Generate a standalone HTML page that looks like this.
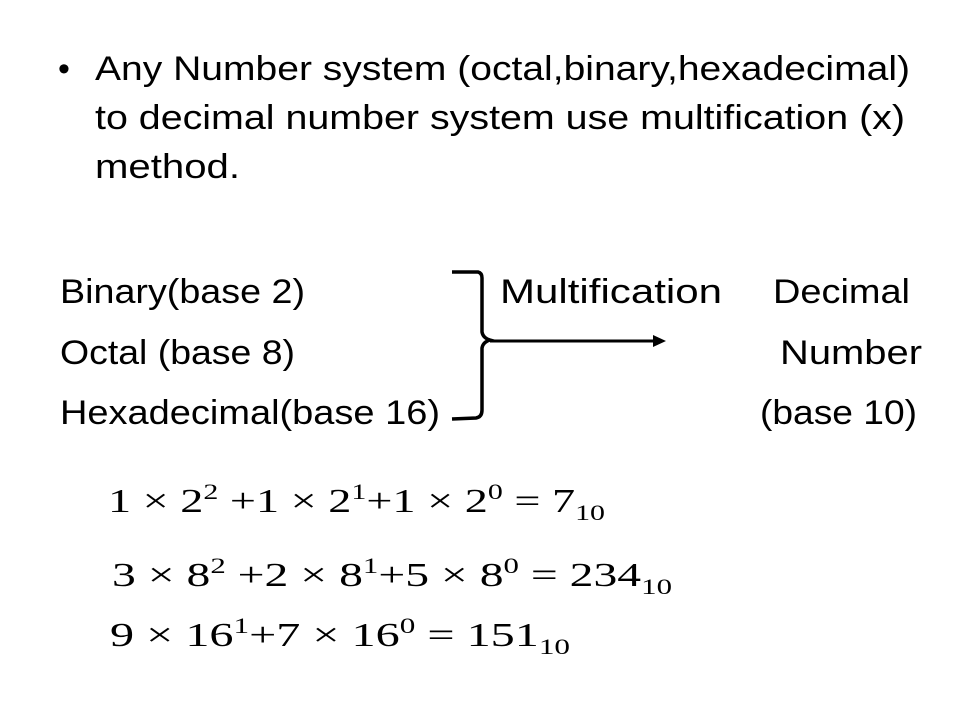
<!DOCTYPE html>
<html><head><meta charset="utf-8"><style>
html,body{margin:0;padding:0;background:#fff;}
svg{display:block;}
.t{font-family:"Liberation Sans",sans-serif;font-size:34px;fill:#000;}
.m{font-family:"Liberation Serif",serif;font-size:34px;fill:#000;}
</style></head><body>
<svg width="960" height="720" viewBox="0 0 960 720">
<rect width="960" height="720" fill="#fff"/>
<text class="t" x="58" y="80">•</text>
<text class="t" x="95" y="80" textLength="815" lengthAdjust="spacingAndGlyphs">Any Number system (octal,binary,hexadecimal)</text>
<text class="t" x="95" y="129" textLength="810" lengthAdjust="spacingAndGlyphs">to decimal number system use multification (x)</text>
<text class="t" x="95" y="178" textLength="145" lengthAdjust="spacingAndGlyphs">method.</text>

<text class="t" x="60" y="303" textLength="245" lengthAdjust="spacingAndGlyphs">Binary(base 2)</text>
<text class="t" x="500" y="303" textLength="222" lengthAdjust="spacingAndGlyphs">Multification</text>
<text class="t" x="773" y="303" textLength="137" lengthAdjust="spacingAndGlyphs">Decimal</text>
<text class="t" x="60" y="364" textLength="235" lengthAdjust="spacingAndGlyphs">Octal (base 8)</text>
<text class="t" x="780" y="364" textLength="142" lengthAdjust="spacingAndGlyphs">Number</text>
<text class="t" x="60" y="424" textLength="380" lengthAdjust="spacingAndGlyphs">Hexadecimal(base 16)</text>
<text class="t" x="760" y="424" textLength="157" lengthAdjust="spacingAndGlyphs">(base 10)</text>

<path d="M452 272 L478 272 Q482 273 482 278 L482 332 Q483 338 490 340 Q483 342 482 348 L482 410 Q482 417 476 418 L452 419" fill="none" stroke="#000" stroke-width="3.5"/>
<line x1="490" y1="341" x2="655" y2="341" stroke="#000" stroke-width="3"/>
<polygon points="666,341 653,335 653,347" fill="#000"/>

<text class="m" x="108" y="512" textLength="497" lengthAdjust="spacingAndGlyphs">1 × 2<tspan dy="-13" font-size="22">2</tspan><tspan dy="13"> +1 × 2</tspan><tspan dy="-13" font-size="22">1</tspan><tspan dy="13">+1 × 2</tspan><tspan dy="-13" font-size="22">0</tspan><tspan dy="13"> = 7</tspan><tspan dy="8" font-size="22">10</tspan></text>
<text class="m" x="112" y="586" textLength="560" lengthAdjust="spacingAndGlyphs">3 × 8<tspan dy="-13" font-size="22">2</tspan><tspan dy="13"> +2 × 8</tspan><tspan dy="-13" font-size="22">1</tspan><tspan dy="13">+5 × 8</tspan><tspan dy="-13" font-size="22">0</tspan><tspan dy="13"> = 234</tspan><tspan dy="8" font-size="22">10</tspan></text>
<text class="m" x="110" y="646" textLength="460" lengthAdjust="spacingAndGlyphs">9 × 16<tspan dy="-13" font-size="22">1</tspan><tspan dy="13">+7 × 16</tspan><tspan dy="-13" font-size="22">0</tspan><tspan dy="13"> = 151</tspan><tspan dy="8" font-size="22">10</tspan></text>
</svg>
</body></html>
